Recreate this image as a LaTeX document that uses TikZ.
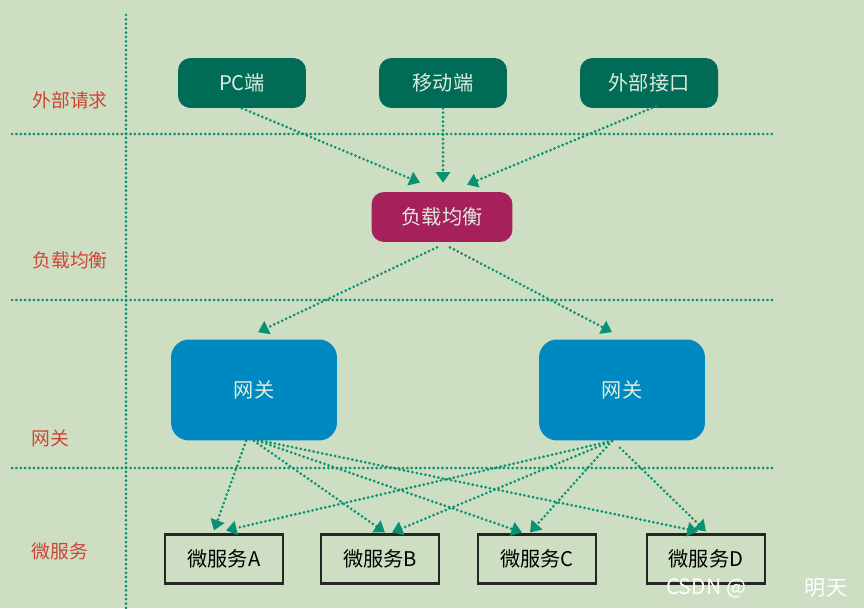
\documentclass[tikz,border=0pt]{standalone}
\usepackage{fontspec}
\setmainfont{Noto Sans CJK SC}
\usepackage{tikz}
\usetikzlibrary{arrows.meta,positioning,calc}
\definecolor{LayerBg}{RGB}{205,222,194}
\definecolor{LayerLine}{RGB}{10,145,115}
\definecolor{LayerRed}{RGB}{205,70,55}
\definecolor{ClientGreen}{RGB}{0,107,87}
\definecolor{BalancerRed}{RGB}{166,32,92}
\definecolor{GatewayBlue}{RGB}{0,137,193}
\definecolor{BoxText}{RGB}{222,236,222}

\begin{document}
\begin{tikzpicture}[x=0.02cm,y=-0.02cm,>=Stealth,
  layer/.style={LayerLine,line width=1.7pt,line cap=round,dash pattern=on 0pt off 2.5pt},
  flow/.style={layer,-{Triangle[width=8pt,length=6pt]}},
  tag/.style={LayerRed,font=\fontsize{10.7}{12}\selectfont},
  client/.style={fill=ClientGreen,text=BoxText,rounded corners=0.25cm,minimum width=2.56cm,minimum height=1cm,font=\fontsize{11.5}{13}\selectfont},
  service/.style={draw=black!85,line width=1.2pt,minimum width=2.36cm,minimum height=0.98cm,font=\fontsize{11.5}{13}\selectfont}]
\useasboundingbox[fill=LayerBg] (0,0) rectangle (864,608);
% layer lines
\draw[layer] (126,15) -- (126,608);
\foreach \y in {134,300,468}
  \draw[layer] (12,\y) -- (775,\y);
\node[tag] (tReq) at (70,100) {外部请求};
\node[tag] (tLb) at (70,260) {负载均衡};
\node[tag] (tGw) at (50,438) {网关};
\node[tag] (tSvc) at (60,551) {微服务};
% clients
\node[client] (pc) at (242,83) {PC端};
\node[client] (mob) at (443,83) {移动端};
\node[client,minimum width=2.76cm] (ext) at (649,83) {外部接口};
\node[client,fill=BalancerRed,minimum width=2.82cm] (lb) at (442,217) {负载均衡};
\node[client,fill=GatewayBlue,minimum width=3.32cm,minimum height=2.02cm,rounded corners=0.36cm] (gwl) at (254,390) {网关};
\node[client,fill=GatewayBlue,minimum width=3.32cm,minimum height=2.02cm,rounded corners=0.36cm] (gwr) at (622,390) {网关};
% services
\node[service] (svcA) at (224,559) {微服务A};
\node[service] (svcB) at (380,559) {微服务B};
\node[service] (svcC) at (537,559) {微服务C};
\node[service] (svcD) at (706,559) {微服务D};
% requests
\draw[flow] (pc.south) -- ($(lb.north)+(-22,-9)$);
\draw[flow] (mob.south) -- ($(lb.north)+(1,-9)$);
\draw[flow] ($(ext.south)+(7,-2)$) -- ($(lb.north)+(25,-7)$);
\draw[flow] ($(lb.south)+(-5,5)$) -- ($(gwl.north)+(4,-7)$);
\draw[flow] ($(lb.south)+(8,5)$) -- ($(gwr.north)+(-10,-7)$);
% gateway to services
\draw[flow] ($(gwl.south)+(-8,0)$) -- ($(svcA.north)+(-10,-3)$);
\draw[flow] ($(gwl.south)+(0,0)$) -- ($(svcB.north)+(5,-1)$);
\draw[flow] ($(gwl.south)+(4,0)$) -- ($(svcC.north)+(-15,-1)$);
\draw[flow] ($(gwl.south)+(8,0)$) -- ($(svcD.north)+(-8,-2)$);
\draw[flow] ($(gwr.south)+(-10,0)$) -- ($(svcA.north)+(2,-3)$);
\draw[flow] ($(gwr.south)+(-10,0)$) -- ($(svcB.north)+(12,-1)$);
\draw[flow] ($(gwr.south)+(-10,0)$) -- ($(svcC.north)+(-7,-1)$);
\draw[flow] ($(gwr.south)+(-2,7)$) -- ($(svcD.north)+(0,-2)$);
% watermark
\node[white,font=\fontsize{12}{14}\selectfont] (mark) at (706,588) {CSDN @};
\node[white,font=\fontsize{12}{14}\selectfont] (markName) at (826,588) {明天};
\end{tikzpicture}
\end{document}
